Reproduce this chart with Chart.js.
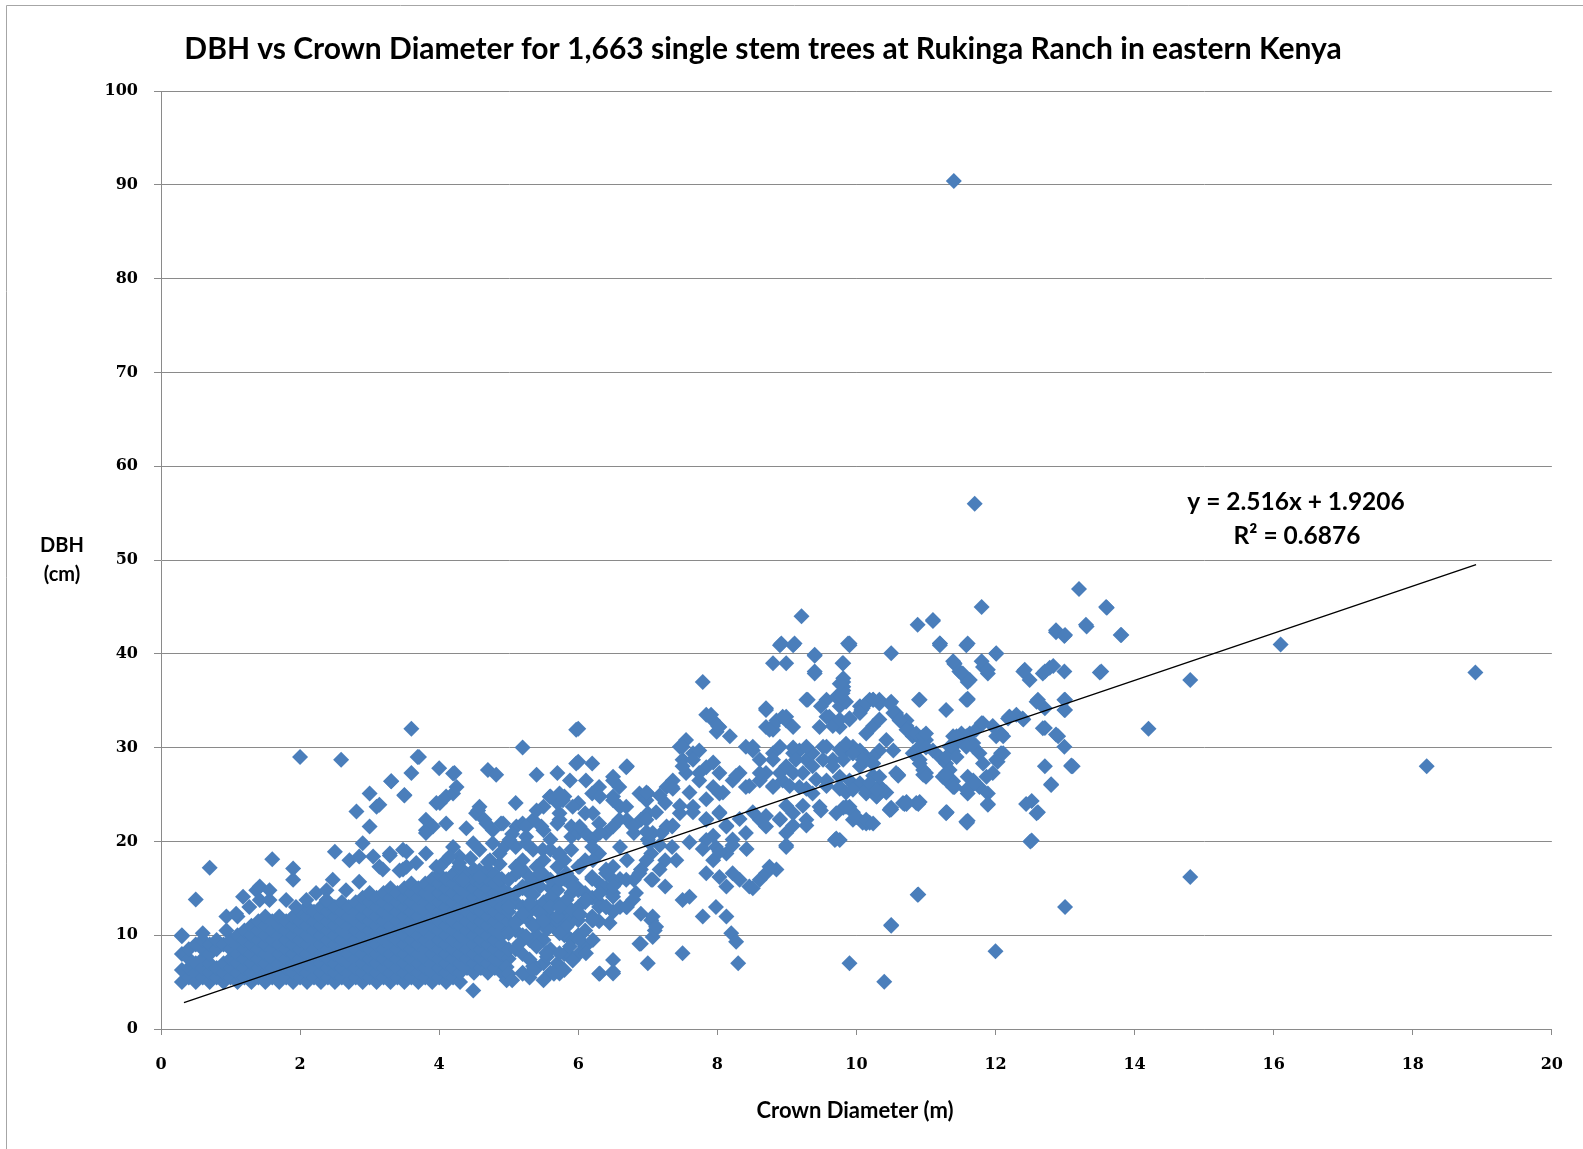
<!DOCTYPE html>
<html>
<head>
<meta charset="utf-8">
<script src="https://cdn.jsdelivr.net/npm/chart.js@4.4.1/dist/chart.umd.min.js"></script>
<style>
html,body{margin:0;padding:0;background:#fff;}
#wrap{width:1583px;height:1149px;position:relative;}
</style>
</head>
<body>
<div id="wrap"><canvas id="c" width="1583" height="1149"></canvas></div>
<script>
// ---------------- DATA ----------------
const chartTitle = "DBH vs Crown Diameter for 1,663 single stem trees at Rukinga Ranch in eastern Kenya";
const xAxisTitle = "Crown Diameter (m)";
const yAxisTitle = ["DBH", "(cm)"];
const trendLabel = ["y = 2.516x + 1.9206", "R\u00B2 = 0.6876"];
const xTicks = [0, 2, 4, 6, 8, 10, 12, 14, 16, 18, 20];
const yTicks = [0, 10, 20, 30, 40, 50, 60, 70, 80, 90, 100];

// dense base of small trees: crown diameter -> list of DBH values
const baseCrown = [0.3,0.4,0.5,0.6,0.7,0.8,0.9,1.0,1.1,1.2,1.3,1.4,1.5,1.6,1.7,1.8,1.9,2.0,2.1,2.2,2.3,2.4,2.5,2.6,2.7,2.8,2.9,3.0,3.1,3.2,3.3,3.4,3.5,3.6,3.7,3.8,3.9,4.0,4.1,4.2,4.3,4.4,4.5,4.6,4.7,4.8,4.9,5.0];
const baseDbh = [
 [5,6.3,8,10],[5.5,6.5,7.5,8.5],[5,6,7,9],[5.5,6.5,7.5,8.5,9.5],[5,6,7,8,9],[5.5,6.5,8.5,9.5],[5,6,7,9],[5.5,6.5,7.5,8.5,9.5],
 [5,6,7,8,9,10],[5.5,6.5,7.5,8.5,9.5,10.5],[5,6,7,8,9,10,11],[5.5,6.5,7.5,8.5,9.5,10.5,11.5],[5,6,7,8,9,10,11,12],
 [5.5,6.5,7.5,8.5,9.5,10.5,11.5],[5,6,7,8,9,10,11,12],[5.5,6.5,7.5,8.5,9.5,10.5,11.5],[5,6,7,8,9,10,11,12],
 [5.5,6.5,7.5,8.5,9.5,10.5,11.5,12.5],[5,6,7,8,9,10,11,12,13],[5.5,6.5,7.5,8.5,9.5,10.5,11.5,12.5],[5,6,7,8,9,10,11,12,13],
 [5.5,6.5,7.5,8.5,9.5,10.5,11.5,12.5,13.5],[5,6,7,8,9,10,11,12,13],[5.5,6.5,7.5,8.5,9.5,10.5,11.5,12.5,13.5],[5,6,7,8,9,10,11,12,13],
 [5.5,6.5,7.5,8.5,9.5,10.5,11.5,12.5,13.5],[5,6,7,8,9,10,11,12,13,14],[5.5,6.5,7.5,8.5,9.5,10.5,11.5,12.5,13.5,14.5],
 [5,6,7,8,9,10,11,12,13,14],[5.5,6.5,7.5,8.5,9.5,10.5,11.5,12.5,13.5,14.5],[5,6,7,8,9,10,11,12,13,14,15],
 [5.5,6.5,7.5,8.5,9.5,10.5,11.5,12.5,13.5,14.5],[5,6,7,8,9,10,11,12,13,14,15],[5.5,6.5,7.5,8.5,9.5,10.5,11.5,12.5,13.5,14.5,15.5],
 [5,6,7,8,9,10,11,12,13,14,15],[5.5,6.5,7.5,8.5,9.5,10.5,11.5,12.5,13.5,14.5,15.5],[5,6,7,8,9,10,11,12,13,14,15,16],
 [5.5,6.5,7.5,8.5,9.5,10.5,11.5,12.5,13.5,14.5,15.5,16.5],[5,6,7,8,9,10,11,12,13,14,15,16],
 [5.5,6.5,7.5,8.5,9.5,10.5,11.5,12.5,13.5,14.5,15.5,16.5],[5,6,7,8,9,10,11,12,13,14,15,16,17],
 [6.5,7.5,8.5,9.5,10.5,11.5,12.5,13.5,14.5,15.5,16.5],[6,7,8,9,10,11,12,13,14,15,16,17],
 [6.5,7.5,8.5,9.5,10.5,11.5,12.5,13.5,14.5,15.5,16.5],[6,7,8,9,10,11,12,13,14,15,16,17],
 [6.5,7.5,8.5,9.5,10.5,11.5,12.5,13.5,14.5,15.5,16.5],[6,7,8,9,10,11,12,13,14,15,16],[7.5,8.5,10.5,11.5,12.5,13.5,14.5]
];
// second, looser block of trees between 5 and 6.6 m crown diameter
const bandCrown = [5.1,5.2,5.3,5.4,5.5,5.6,5.7,5.8,5.9,6.0,6.1,6.2,6.3,6.4,6.5,6.6];
const bandDbh = [
 [8.5,10.5,11.5,13.5,14.5,16.5],[6,8,10,12,13,15,17],[5.5,9.5,11.5,12.5,14.5,15.5],[6.5,10,11,13,16],
 [7,9.5,12.5,13.5,16.5],[6,8.5,11,12,14,15],[10.5,11.5,13.5,15.5],[8,10,12,13,16],[9.5,11.5,14.5,15.5],
 [10,12,13,15],[10.5,13.5,14.5],[12,14,16],[11.5,13.5,15.5],[13,15,17],[12.5,14.5],[13,16]
];

// individual trees [crown diameter m, DBH cm]
const smallTrees = [
 [0.5,13.8],[0.7,17.2],[0.6,10.2],[0.3,9.9],[1.1,12],[0.94,12],[0.94,10.5],[1.08,12.3],[1.18,14.1],[1.27,13],[1.37,14.8],[1.42,13.75],
 [1.42,15.2],[1.56,13.75],[1.56,14.8],[1.6,18.1],[1.8,13.75],[1.9,17.1],[1.9,15.9],[1.94,13],[2.0,29],[2.09,13.75],[2.23,14.5],[2.38,14.8],
 [2.38,13.75],[2.47,15.9],[2.5,18.9],[2.59,28.7],[2.66,14.8],[2.71,18],[2.81,23.2],[2.85,18.4],[2.85,15.7],[2.9,19.8],[3.0,21.6],[3.0,25.1],
 [3.05,18.4],[3.1,23.7],[3.14,17.3],[3.14,23.9],[3.29,18.5],[3.31,26.4],[3.43,16.9],[3.5,24.9],[3.53,18.9],[3.53,17.3],[3.6,27.3],[3.6,32],
 [3.69,29],[3.81,18.7],[3.81,21.2],[3.81,22.3],[3.91,21.6],[3.81,20.9],[3.96,24.1],[3.96,17.3],[4.0,27.8],[4.01,24.1],[4.1,24.8],[4.1,21.9],
 [4.1,18],[4.2,25.1],[4.2,27.25],[4.2,19.4],[4.25,25.8],[4.29,18.4],[4.29,17.3],[4.39,21.4],[4.49,19.8],[4.49,4.1],[4.53,23],[4.56,23.3],
 [4.58,23.7],[4.58,19.1],[4.58,16.9],[4.65,22.3],[4.68,21.9],[4.7,27.6],[4.73,18],[4.77,21.2],[4.77,19.8],[4.82,27.1],[4.87,17.6],[4.87,18.7],
 [4.89,21.9],[4.92,21.9],[3.29,18.7],[3.48,19.1],[3.19,17],[3.48,17],[3.67,17.7],[4.01,17.3],[4.15,18.4],[4.29,17.7],[4.34,15.9],[4.58,16.2],
 [4.87,15.9],[5.11,21.6],[3.31,26.4],[3.5,24.95],[4.22,27.3],[3.71,29.0],[4.97,6.6],[4.97,5.2],[4.95,19.5],[5.05,20.8],[4.45,18.2],[4.7,17.8]
];
const midTrees = [
 [5.2,30],[5.4,27.1],[5.7,27.3],[6.0,28.5],[5.6,24.8],[5.8,24.8],[5.1,24.1],[6.0,24.1],[5.5,23.7],[5.7,24.1],[5.2,21.9],[5.35,22.3],[5.5,21.2],
 [5.7,21.9],[5.9,21.6],[5.25,20.5],[5.6,20.2],[5.9,20.5],[6.0,20.9],[5.1,19.4],[5.2,18],[5.35,19.1],[5.5,18],[5.6,19.1],[5.8,18],[5.9,19.1],
 [5.1,17.3],[5.4,17.3],[5.7,17.3],[6.0,17.3],[5.0,15.9],[5.2,15.2],[5.3,16.2],[5.45,15.2],[5.6,15.9],[5.7,14.8],[5.9,15.9],[6.0,14.8],[5.1,14.5],
 [5.35,14.3],[5.6,14.1],[5.0,13],[5.2,12.3],[5.3,13.4],[5.45,12.3],[5.6,13],[5.7,12],[5.9,12.7],[6.0,11.6],[5.1,11.3],[5.25,9.9],[5.4,8.8],
 [5.55,10.6],[5.8,10.2],[6.0,9.9],[6.1,8.8],[5.0,10.2],[5.15,9.1],[5.55,7.7],[5.7,7],[5.9,7.7],[5.35,6.7],[5.5,5.2],[5.65,5.9],[5.8,6.3],
 [5.0,5.9],[5.05,5.2],[5.2,5.9],[5.35,11],[5.5,11.5],[5.15,16.8],[5.45,16.6],[5.4,23.3],[5.59,24.76],[5.78,24.4],[5.73,22.3],[5.47,21.6],
 [5.25,21.6],[5.01,20.15],[5.25,19.8],[5.49,19.1],[5.73,18.4],[5.97,31.9],[6.0,32],
 [5.3,7.4],[5.35,6.3],[5.73,6.6],[5.54,8.1],[5.88,8.8],[6.02,8.1],[5.64,6.0],[7.07,9.8],
 [6.2,28.3],[6.5,26.9],[6.7,28],[6.3,25.8],[6.2,25.1],[6.5,24.8],[6.6,23.7],[6.1,23],[7.0,25.1],[7.35,25.8],[7.25,24.1],[7.0,23],[6.9,22.3],
 [6.1,20.9],[6.2,20.2],[6.4,20.9],[6.5,21.6],[6.7,22.3],[6.8,20.9],[7.0,20.2],[7.2,20.9],[7.35,21.6],[6.3,21.9],[6.1,18],[6.3,18.7],[6.5,17.3],
 [6.7,18],[6.9,17],[7.05,18.7],[7.25,18],[7.35,19.4],[6.2,19.4],[6.6,19.4],[6.2,16.2],[6.5,15.9],[6.8,15.9],[7.05,15.9],[6.35,15.2],[7.25,15.2],
 [6.1,13.75],[6.3,13],[6.5,14.1],[6.7,13],[6.9,12.3],[7.05,11.6],[7.1,10.5],[6.2,11.6],[6.9,9.1],[7.0,7],[6.3,5.9],[6.5,6.1],
 [5.73,25.1],[5.88,26.5],[5.97,28.3],[6.11,26.5],[6.31,24.8],[6.5,26.5],[6.69,27.9],[6.59,25.8],[6.5,24.4],[6.88,25.1],[6.98,24.4],[7.27,25.8],
 [7.36,26.5],[7.55,27.3],[7.74,26.5],[7.84,27.9],[7.94,25.8],[5.73,23],[5.92,23.7],[6.02,21.6],[6.21,23],[6.31,20.9],[6.59,22.3],[6.69,23.7],
 [6.79,21.6],[6.98,22.3],[7.07,20.9],[7.27,21.6],[7.46,23],[7.65,23.7],[7.84,22.3],[7.84,20.15],[7.98,19.4],[7.03,19.8],
 [5.73,18.7],[5.83,16.6],[6.02,17.3],[6.21,18],[6.4,16.6],[6.5,15.2],[6.31,14.5],[6.69,15.9],[6.88,16.6],[6.79,13.8],[6.98,18],[7.07,15.9],
 [7.17,17],[7.41,18],[7.84,16.6],[7.94,18],[7.5,13.75],[7.6,14.1],[7.07,12],[7.12,10.9],[6.88,9.1],[7.5,8.07],[7.79,12],[7.98,13],
 [6.31,5.93],[6.5,5.93],[5.73,5.93],[5.92,7.3],[6.02,9.5],[6.11,8.07],[5.83,10.9],[6.02,12.3],[6.21,11.6],[6.4,13],[5.83,13.75],
 [5.73,15.9],[5.92,15.2],[6.11,13.75],[5.73,13],[5.73,10.2],[6.21,9.5],[5.73,8.07],[6.5,7.35],[6.45,11.3],[6.69,13],[6.83,14.5],
 [7.79,37],[7.84,33.5],[7.94,32.9],[7.99,31.7],[7.46,30.1],[7.55,30.8],[7.65,29.4],[7.74,29.7],[7.5,28.7],[7.91,33.5],[7.5,30.1],
 [7.5,28],[7.65,28.7],[7.74,27.3],[7.94,28.4],[7.84,24.5],[7.6,25.2],[7.36,25.6],[7.17,24.9],[6.98,25.2],[7.46,23.8],[7.65,23.1],
 [7.84,22.4],[7.36,21.7],[7.12,23.1],[6.98,21],[7.17,19.6],[7.6,19.9],[7.79,19.2],[7.94,20.6]
];
const largeTrees = [
 [8.03,25.1],[8.22,26.5],[8.32,27.3],[8.41,25.8],[8.61,26.5],[8.7,27.3],[8.8,25.8],[8.94,26.5],[9.09,27.3],[9.18,25.8],[9.37,25.1],[9.57,26.5],
 [9.76,25.8],[9.9,26.5],[10.05,26.2],[10.14,25.1],[10.29,24.8],[10.48,23.4],[10.67,24.1],[10.86,24.1],[10.57,27.3],[10.96,27.6],
 [8.03,23],[8.13,21.6],[8.22,20.2],[8.41,20.9],[8.61,22.3],[8.7,21.6],[8.9,22.3],[8.99,20.9],[9.09,23],[9.28,22.3],[9.47,23.7],[9.71,23],
 [9.9,23.7],[9.95,22.3],[10.14,21.9],[8.99,19.4],[9.69,20.15],[8.13,18.7],
 [8.03,16.2],[8.13,15.2],[8.22,16.6],[8.32,15.9],[8.46,15.2],[8.61,15.9],[8.7,16.6],[8.85,17],[8.75,17.3],[8.51,15],
 [8.13,12],[8.2,10.2],[8.27,9.3],[8.3,7],[9.9,7],[10.4,5.05],[10.5,11.1],[10.88,14.3],
 [8.8,39],[8.99,39],[8.9,40.9],[9.09,40.9],[9.4,39.9],[9.4,37.9],[9.81,39],[9.9,40.9],[10.5,40.05],[9.81,37],[9.81,36.1],
 [9.28,35.1],[9.57,35.1],[9.71,35.4],[9.76,34.4],[9.85,34.9],[9.9,33.1],[9.57,33.3],[9.47,32.2],[9.76,32.2],
 [8.7,34],[8.7,32.2],[8.85,32.9],[8.99,32.9],[9.09,32.2],[8.8,31.9],[8.03,32.2],[8.18,31.2],
 [8.41,30.1],[8.51,29.7],[8.61,28.7],[8.8,29.4],[8.9,30.1],[9.09,29.4],[9.18,29.7],[9.28,28.7],[9.37,29.4],[9.52,30.1],[9.66,28.7],
 [9.81,29.4],[9.95,30.1],[10.05,29.7],[10.14,29],[10.24,28.3],[10.33,29.7],[10.43,30.8],[10.53,29.7],[10.57,33.7],[10.72,32.9],
 [10.81,31.2],[10.91,30.1],[10.05,34.4],[10.19,35.1],[10.33,34.7],[10.9,35.1],
 [9.88,41.1],[9.21,44],[8.92,41.1],[9.11,41.1],[9.4,39.8],[9.4,38.1],[9.81,37.4],[8.7,34.2],[8.8,32.3],[8.99,33.3],[9.3,35.1],
 [9.49,34.4],[9.61,33.3],[9.81,36.5],[9.78,35.4],[9.9,33],[10.09,34.2],[10.24,35.1],[10.33,35.1],[10.5,34.9],[10.57,33.5],[10.67,32.6],
 [10.81,31.5],[10.93,30.8],[10.5,23.6],[10.72,24.2],[10.91,24.2],[10.81,29.4],[10.91,28.7],[10.6,27],
 [8.01,32.3],[8.51,30.1],[8.75,31.9],[8.94,33.3],[9.66,32.3],[9.76,33],[10.07,34],[10.14,31.5],[10.24,32.3],[10.33,33],[10.53,33.7],
 [10.62,33],[10.72,32.3],[9.28,30.1],[9.09,30],[9.57,30.1],[9.76,29.8],
 [8.03,27.3],[8.27,27],[8.46,25.9],[8.61,27.3],[8.8,28.7],[8.9,27.3],[8.99,28],[9.13,28.7],[9.23,27.3],[9.37,28],[9.52,28.7],[9.66,28],
 [9.81,28.7],[9.95,29.4],[10.05,28],[10.14,28.7],[10.24,27],[10.33,25.9],[10.43,25.2],[9.57,25.9],[9.76,25.6],[9.85,25.2],[10.14,25.2],
 [9.04,25.9],[9.28,25.6],[9.42,26.6],[8.8,25.9],[8.08,25.2],
 [8.03,23.1],[8.13,21.7],[8.32,22.4],[8.51,23.1],[8.7,22.7],[8.9,22.4],[9.09,21.7],[9.28,21.7],[8.99,23.8],[9.23,23.8],[9.49,23.3],
 [9.81,23.6],[9.95,23.1],[10.09,22],[10.19,22],[9.71,20.3],[8.99,19.6],[8.22,19.6],[8.42,19.2],[8.03,18.9],
 [10.5,23.4],[10.69,24],[10.89,24],[10.89,14.35],[10.5,11],[9.9,33.1],[9.9,41.1],[9.8,39],[9.8,35.8],[9.76,36.8],[10.88,43.1],
 [10.91,35.1],[10.62,32.9],[10.72,31.9],[10.86,31.5],[10.96,31.2],[10.6,27.1],[10.91,30.1],[10.91,28.3],[10.96,27.1],
 [10.14,34.7],[10.24,35.1],[10.48,34.7],[10.05,33.7],[9.85,30.4],[9.76,26.9],[10.05,29.4],[10.24,29],[9.95,25.5],[10.14,25.5],
 [10.29,24.8],[10.38,25.5],[9.85,23.7],[10.0,22.6],[10.14,22.3],[10.24,21.9],[10.48,23.35],[10.72,24],[9.76,20.15],[9.95,29.4],
 [10.09,28.7],[10.24,28.3],[10.33,26.9],[10.19,26.2],[10.29,25.5]
];
const biggestTrees = [
 [11.29,23],[11.58,22.1],[11.24,26.9],[11.39,25.8],[11.58,25.5],[11.2,40.9],[11.41,39],[11.58,40.9],[11.48,38.1],[11.6,37.2],[11.6,35.1],
 [11.0,30.8],[11.1,29.7],[11.2,29],[11.29,28.3],[11.39,30.1],[11.48,30.8],[11.63,31.5],[11.72,31.9],[11.29,34],[11.58,35.1],
 [13.2,46.9],[13.6,44.9],[13.31,42.9],[12.87,42.3],[12.99,41.9],[13.5,38],[12.4,38.1],[12.49,37.2],[12.71,38.1],[12.83,38.7],
 [12.99,38.1],[12.61,35.1],[12.71,34.2],[12.99,35.1],[12.99,34],[12.71,32.1],[12.87,31.4],[12.99,30.1],[13.09,28.1],[12.8,26.1],
 [12.52,24.3],[12.61,23.1],[12.52,20.1],[12.4,33],[12.2,33.3],[12.01,40],[11.82,38.6],[11.89,37.9],[11.8,45],[11.6,41.1],[11.41,38.9],
 [11.51,37.9],[11.6,37],[11.6,35.2],[11.8,32.6],[11.1,43.5],[11.2,41.1],[11.0,30],
 [11.39,31.2],[11.51,31.5],[11.6,31.2],[11.68,30.5],[11.96,32.3],[12.08,31.5],[12.18,33.1],[12.3,33.5],
 [11.39,29.6],[11.29,27.3],[11.39,26.4],[11.6,26.9],[11.68,26.5],[11.6,25.1],[11.77,25.8],[11.89,25.1],[11.89,24],[12.01,28.7],
 [12.08,29.4],[11.96,27.3],[11.29,23.1],[11.6,22.2],[12.71,28],[13.09,28],[11.0,27.3],
 [13.0,13],[12.5,20],[12.0,8.3],[11.59,22],[11.3,23.1],[12.44,24],[12.59,23],[12.8,26],[13.11,28],[12.68,32.05],[12.9,31.2],
 [11.89,23.9],[11.6,25.5],[11.7,26.2],[11.87,26.9],[11.3,26.5],[11.41,25.8],[11.34,27.6],[12.03,28.5],[12.11,29.4],[12.01,31.2],
 [12.11,31.2],[12.2,33.3],[12.39,33.1],[11.82,32.6],[11.58,31.2],[11.44,31.2],[11.34,30.1],[11.29,29],[11.44,29],[11.58,30.1],
 [11.68,30.1],[11.77,29.4],[11.82,28.3],[11.0,31.5],[11.0,26.9],[11.29,27.1],[11.1,43.6],[11.2,41.1],[12.01,40.05],
 [11.39,39.2],[11.53,37.9],[11.63,37.2],[11.8,39.2],[11.89,38.3],[12.42,38.3],[12.68,37.9],[12.78,38.5],[13.52,38.1],
 [12.87,42.5],[13.0,42],[13.3,43.1],[13.59,45],[13.81,42],[12.59,34.9],[13.0,35.1],[13.0,34]
];
const outlierTrees = [
 [11.4,90.4],[11.7,56],[18.9,38],[18.2,28],[16.1,41],[14.8,16.2],[14.2,32],[14.8,37.2],[13.8,42]
];
// linear trend line end points (as drawn)
const trendCrown = [0.33, 18.91];
const trendDbh = [2.8, 49.5];

// ---------------- BUILD ----------------
const pts = [];
baseCrown.forEach((cx, i) => baseDbh[i].forEach(d => pts.push({x: cx, y: d})));
bandCrown.forEach((cx, i) => bandDbh[i].forEach(d => pts.push({x: cx, y: d})));
[smallTrees, midTrees, largeTrees, biggestTrees, outlierTrees].forEach(arr => arr.forEach(p => pts.push({x: p[0], y: p[1]})));
const trendPts = trendCrown.map((cx, i) => ({x: cx, y: trendDbh[i]}));

const GRID = '#8a8a8a';
const deco = {
  id: 'deco',
  beforeDraw(chart) {
    const ctx = chart.ctx;
    ctx.save();
    ctx.fillStyle = '#fff';
    ctx.fillRect(0, 0, chart.width, chart.height);
    ctx.strokeStyle = '#a6a6a6';
    ctx.lineWidth = 1;
    ctx.beginPath();
    ctx.moveTo(6.5, chart.height); ctx.lineTo(6.5, 5.5); ctx.lineTo(chart.width, 5.5);
    ctx.stroke();
    ctx.restore();
  },
  afterDraw(chart) {
    const ctx = chart.ctx;
    ctx.save();
    ctx.fillStyle = '#000';
    ctx.textAlign = 'center';
    ctx.textBaseline = 'middle';
    ctx.font = 'bold 30px Lato';
    ctx.fillText(chartTitle, 763, 49);
    ctx.font = 'bold 20px Lato';
    ctx.fillText(yAxisTitle[0], 62, 546);
    ctx.fillText(yAxisTitle[1], 62, 575);
    ctx.font = 'bold 22px Lato';
    ctx.fillText(xAxisTitle, 855, 1111);
    ctx.font = 'bold 24.5px Lato';
    ctx.fillText(trendLabel[0], 1296, 502);
    ctx.fillText(trendLabel[1], 1297, 536);
    ctx.restore();
  }
};

new Chart(document.getElementById('c'), {
  type: 'scatter',
  data: {
    datasets: [
      {
        type: 'line', data: trendPts, borderColor: '#000', borderWidth: 1.3,
        pointRadius: 0, fill: false, order: 0
      },
      {
        data: pts, pointStyle: 'rectRot', pointRadius: 8, pointHoverRadius: 8,
        backgroundColor: '#4A7EBB', borderWidth: 0, pointBorderWidth: 0, order: 1
      }
    ]
  },
  options: {
    responsive: false,
    animation: false,
    events: [],
    layout: { padding: { left: 0, top: 91, right: 31, bottom: 0 } },
    plugins: { legend: { display: false }, tooltip: { enabled: false }, title: { display: false } },
    scales: {
      x: {
        type: 'linear', min: 0, max: 20,
        afterFit: s => { s.height = 120; },
        afterBuildTicks: s => { s.ticks = xTicks.map(v => ({value: v})); },
        grid: { drawOnChartArea: false, drawTicks: true, tickLength: 6, color: GRID, lineWidth: 1 },
        border: { display: true, color: GRID, width: 1 },
        ticks: { padding: 20, color: '#000', font: { family: 'DejaVu Serif', size: 16, weight: 'bold' }, maxRotation: 0 }
      },
      y: {
        type: 'linear', min: 0, max: 100,
        afterFit: s => { s.width = 161; },
        afterBuildTicks: s => { s.ticks = yTicks.map(v => ({value: v})); },
        grid: { drawOnChartArea: true, drawTicks: true, tickLength: 7, color: GRID, lineWidth: 1 },
        border: { display: true, color: GRID, width: 1 },
        ticks: { padding: 16, color: '#000', font: { family: 'DejaVu Serif', size: 16, weight: 'bold' } }
      }
    }
  },
  plugins: [deco]
});
</script>
</body>
</html>
